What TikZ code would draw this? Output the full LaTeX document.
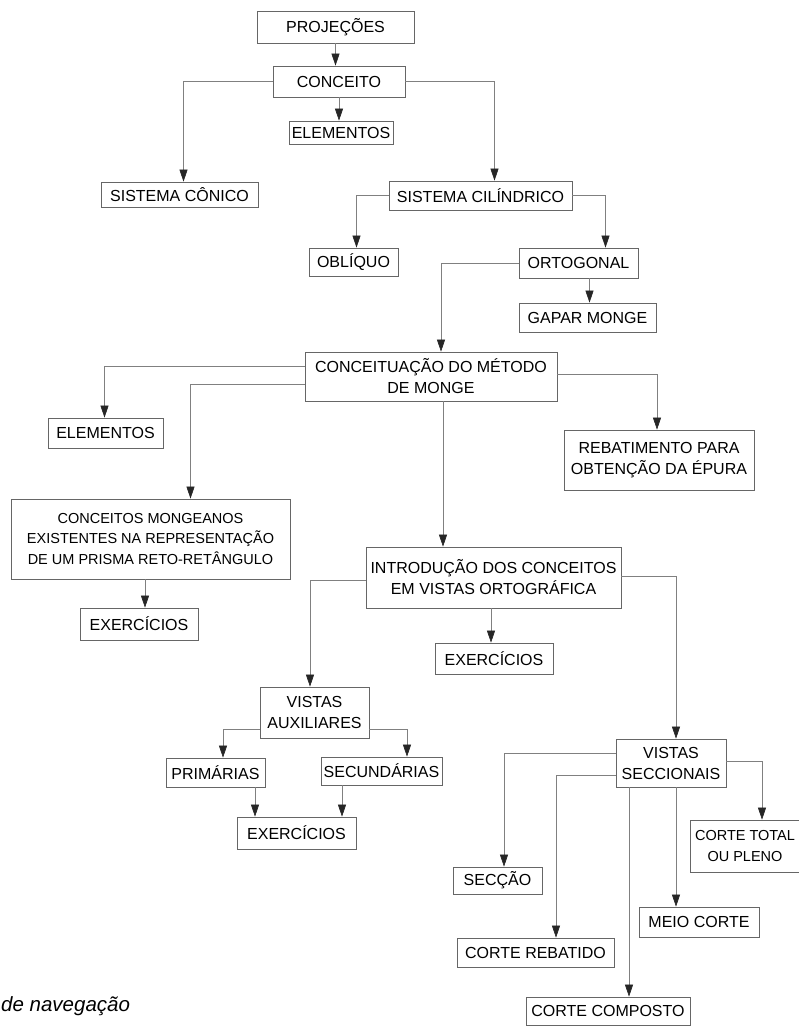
\documentclass[tikz,border=0pt]{standalone}
\usepackage{fontspec}
\setmainfont{Liberation Sans}
\usetikzlibrary{arrows.meta,positioning,calc}
\tikzset{
  box/.style={draw=black!60, line width=0.7pt, inner sep=0pt, align=center,
    font=\fontsize{16}{21}\selectfont},
  arr/.style={draw=black!50, line width=0.6pt,
    -{Triangle[length=12pt,width=8pt,color=black!85]}},
}
\begin{document}
\begin{tikzpicture}[x=1pt,y=-1pt]
  \useasboundingbox (0,0) rectangle (799,1027);

  % Top levels
  \node[box,minimum width=157,minimum height=32] (proj) at (335.5,27) {PROJEÇÕES};
  \node[box,minimum width=132,minimum height=31] (conc) at (339,81.5) {CONCEITO};
  \node[box,minimum width=104,minimum height=23] (elem) at (341,132.5) {ELEMENTOS};
  \node[box,minimum width=157,minimum height=25] (conico) at (179.5,194.5) {SISTEMA CÔNICO};
  \node[box,minimum width=183,minimum height=29] (cil) at (480.5,195.5) {SISTEMA CILÍNDRICO};
  \node[box,minimum width=89,minimum height=28] (obl) at (353.5,262) {OBLÍQUO};
  \node[box,minimum width=119,minimum height=30] (ort) at (578.5,263) {ORTOGONAL};
  \node[box,minimum width=137,minimum height=29] (gapar) at (587.5,317.5) {GAPAR MONGE};

  % Monge
  \node[box,minimum width=252,minimum height=49] (metodo) at (431,376.5) {CONCEITUAÇÃO DO MÉTODO\\DE MONGE};
  \node[box,minimum width=115,minimum height=30] (elemm) at (105.5,433) {ELEMENTOS};
  \node[box,minimum width=190,minimum height=60] (rebat) at (659,460) {REBATIMENTO PARA\\OBTENÇÃO DA ÉPURA};
  \node[box,minimum width=279,minimum height=80,font=\fontsize{14.5}{20.5}\selectfont] (mong) at (150.5,539)
    {CONCEITOS MONGEANOS\\EXISTENTES NA REPRESENTAÇÃO\\DE UM PRISMA RETO-RETÂNGULO};
  \node[box,minimum width=118,minimum height=32] (exa) at (139,624) {EXERCÍCIOS};
  \node[box,minimum width=255,minimum height=61] (intro) at (493.5,577.5) {INTRODUÇÃO DOS CONCEITOS\\EM VISTAS ORTOGRÁFICA};
  \node[box,minimum width=118,minimum height=31] (exb) at (494,658.5) {EXERCÍCIOS};

  % Vistas auxiliares
  \node[box,minimum width=109,minimum height=51] (aux) at (314.5,712.5) {VISTAS\\AUXILIARES};
  \node[box,minimum width=99,minimum height=29] (prim) at (215.5,772.5) {PRIMÁRIAS};
  \node[box,minimum width=121,minimum height=28] (sec) at (381.5,771) {SECUNDÁRIAS};
  \node[box,minimum width=119,minimum height=32] (exc) at (296.5,833) {EXERCÍCIOS};

  % Vistas seccionais
  \node[box,minimum width=110,minimum height=48] (secc) at (671,763) {VISTAS\\SECCIONAIS};
  \node[box,minimum width=89,minimum height=27] (seccao) at (497.5,880.5) {SECÇÃO};
  \node[box,minimum width=157,minimum height=29] (rebatido) at (535.5,952.5) {CORTE REBATIDO};
  \node[box,minimum width=164,minimum height=28] (composto) at (608,1011) {CORTE COMPOSTO};
  \node[box,minimum width=120,minimum height=30] (meio) at (699,922) {MEIO CORTE};
  \node[box,minimum width=110,minimum height=52,font=\fontsize{14.5}{20.5}\selectfont] (total) at (745,846) {CORTE TOTAL\\OU PLENO};

  \node[anchor=base west,inner sep=0pt,font=\fontsize{20.5}{24}\selectfont\itshape] (nav) at (1,1011) {de navegação};

  % Connectors
  \draw[arr] (proj.south) -- (proj.south |- conc.north);
  \draw[arr] (conc.south) -- (conc.south |- elem.north);
  \draw[arr] (conc.west) -| ([xshift=4pt]conico.north);
  \draw[arr] (conc.east) -| ([xshift=14pt]cil.north);
  \draw[arr] (cil.west) -| ([xshift=3pt]obl.north);
  \draw[arr] (cil.east) -| ([xshift=27pt]ort.north);
  \draw[arr] ([xshift=2pt]gapar.north |- ort.south) -- ([xshift=2pt]gapar.north);
  \draw[arr] (ort.west) -| ([xshift=10pt]metodo.north);

  \draw[arr] ([yshift=10pt]metodo.west) -| ([xshift=-1pt]elemm.north);
  \draw[arr] ([yshift=-8pt]metodo.west) -| ([xshift=40pt]mong.north);
  \draw[arr] ([yshift=2pt]metodo.east) -| ([xshift=-2pt]rebat.north);
  \draw[arr] ([xshift=12pt]metodo.south) -- ([xshift=12pt]metodo.south |- intro.north);
  \draw[arr] ([xshift=6pt]exa.north |- mong.south) -- ([xshift=6pt]exa.north);
  \draw[arr] ([xshift=-3pt]exb.north |- intro.south) -- ([xshift=-3pt]exb.north);

  \draw[arr] ([yshift=-2.5pt]intro.west) -| ([xshift=-4.5pt]aux.north);
  \draw[arr] ([yshift=1.5pt]intro.east) -| ([xshift=5pt]secc.north);
  \draw[arr] ([yshift=-17pt]aux.west) -| ([xshift=7.5pt]prim.north);
  \draw[arr] ([yshift=-17pt]aux.east) -| ([xshift=25.5pt]sec.north);
  \draw[arr] ([xshift=-41.5pt]exc.north |- prim.south) -- ([xshift=-41.5pt]exc.north);
  \draw[arr] ([xshift=45.5pt]exc.north |- sec.south) -- ([xshift=45.5pt]exc.north);

  \draw[arr] ([yshift=10pt]secc.west) -| ([xshift=6.5pt]seccao.north);
  \draw[arr] ([yshift=-12pt]secc.west) -| ([xshift=20.5pt]rebatido.north);
  \draw[arr] ([xshift=21pt]composto.north |- secc.south) -- ([xshift=21pt]composto.north);
  \draw[arr] ([xshift=-23pt]meio.north |- secc.south) -- ([xshift=-23pt]meio.north);
  \draw[arr] ([yshift=2pt]secc.east) -| ([xshift=17pt]total.north);
\end{tikzpicture}
\end{document}
